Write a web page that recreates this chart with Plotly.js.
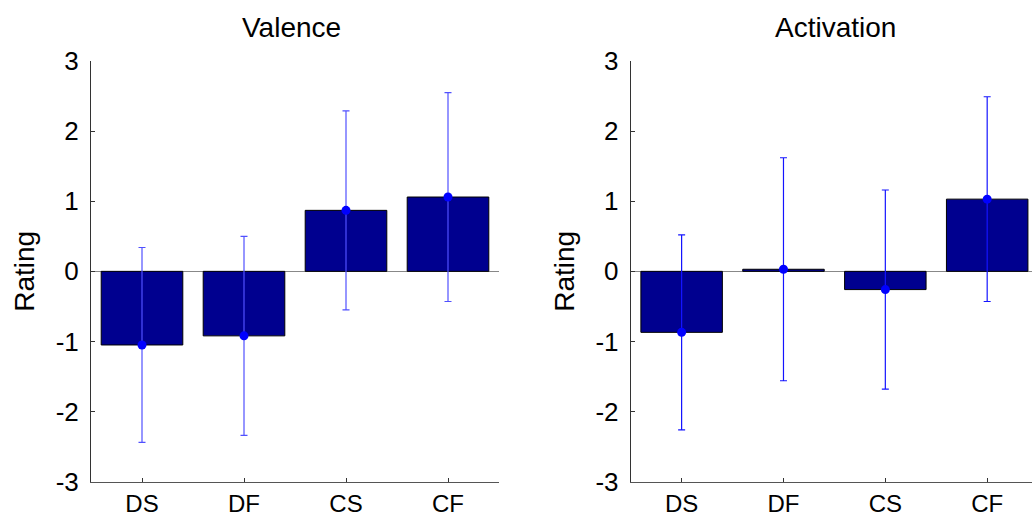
<!DOCTYPE html>
<html>
<head>
<meta charset="utf-8">
<script src="https://cdn.plot.ly/plotly-3.0.1.min.js"></script>
<style>html,body{margin:0;padding:0;background:#fff;}#chart{width:1032px;height:515px;}</style>
</head>
<body>
<div id="chart"></div>
<script>
const categories = ['DS', 'DF', 'CS', 'CF'];
const valenceMean = [-1.05, -0.92, 0.87, 1.06];
const valenceErr = [1.39, 1.42, 1.42, 1.49];
const activationMean = [-0.87, 0.03, -0.26, 1.03];
const activationErr = [1.39, 1.59, 1.42, 1.46];
const yTickVals = [-3, -2, -1, 0, 1, 2, 3];
const yTickText = ['-3', '-2', '-1', '0', '1', '2', '3'];
const panelTitles = ['Valence', 'Activation'];

const barColor = 'rgb(0,0,143)';
const FONT = 'Liberation Sans, Arial, Helvetica, sans-serif';
const TICK = 26, XTICK = 24, TITLE = 28;

function barTrace(y, xa, ya) {
  return {type: 'bar', x: categories, y: y, xaxis: xa, yaxis: ya, width: 0.8,
    marker: {color: barColor, line: {color: '#000', width: 1}}, hoverinfo: 'skip', showlegend: false};
}
function errTrace(y, e, xa, ya, col) {
  return {type: 'scatter', mode: 'markers', x: categories, y: y, xaxis: xa, yaxis: ya,
    marker: {color: 'rgb(0,0,255)', size: 9},
    error_y: {type: 'data', array: e, visible: true, color: col, thickness: 1.2, width: 3.5},
    showlegend: false, cliponaxis: false};
}

const data = [
  barTrace(valenceMean, 'x', 'y'),
  errTrace(valenceMean, valenceErr, 'x', 'y', 'rgb(80,80,255)'),
  barTrace(activationMean, 'x2', 'y2'),
  errTrace(activationMean, activationErr, 'x2', 'y2', 'rgb(20,20,255)')
];

function xAxis(domain, range, anchor) {
  return {domain: domain, range: range, anchor: anchor, type: 'category',
    showline: true, linecolor: '#555', linewidth: 1, ticks: 'inside', ticklen: 4, tickcolor: '#333',
    showgrid: false, zeroline: false, tickfont: {family: FONT, size: XTICK, color: '#000'},
    ticklabelstandoff: 0, fixedrange: true};
}
function yAxis(domain, anchor) {
  return {domain: domain, range: [-3, 3], anchor: anchor,
    tickvals: yTickVals, ticktext: yTickText,
    showline: true, linecolor: '#333', linewidth: 1, ticks: 'inside', ticklen: 4, tickcolor: '#333',
    showgrid: false, zeroline: true, zerolinecolor: '#888', zerolinewidth: 1,
    tickfont: {family: FONT, size: TICK, color: '#000'}, ticklabelstandoff: 6,
    title: {text: 'Rating', font: {family: FONT, size: TITLE, color: '#000'}, standoff: 12}, fixedrange: true};
}

const yDom = [33.3 / 515, 454 / 515];
const layout = {
  width: 1032, height: 515,
  margin: {l: 0, r: 0, t: 0, b: 0},
  paper_bgcolor: '#fff', plot_bgcolor: '#fff',
  bargap: 0.2,
  xaxis: xAxis([91 / 1032, 499 / 1032], [-0.5, 3.5], 'y'),
  yaxis: yAxis(yDom, 'x'),
  xaxis2: xAxis([630.7 / 1032, 1], [-0.5, 3.44], 'y2'),
  yaxis2: yAxis(yDom, 'x2'),
  annotations: [
    {text: panelTitles[0], xref: 'paper', yref: 'paper', x: 291 / 1032, y: 1 - 27 / 515, xanchor: 'center', yanchor: 'middle', showarrow: false, font: {family: FONT, size: TITLE, color: '#000'}},
    {text: panelTitles[1], xref: 'paper', yref: 'paper', x: 835 / 1032, y: 1 - 27 / 515, xanchor: 'center', yanchor: 'middle', showarrow: false, font: {family: FONT, size: TITLE, color: '#000'}}
  ],
  showlegend: false
};

Plotly.newPlot('chart', data, layout, {displayModeBar: false, staticPlot: true});
</script>
</body>
</html>
